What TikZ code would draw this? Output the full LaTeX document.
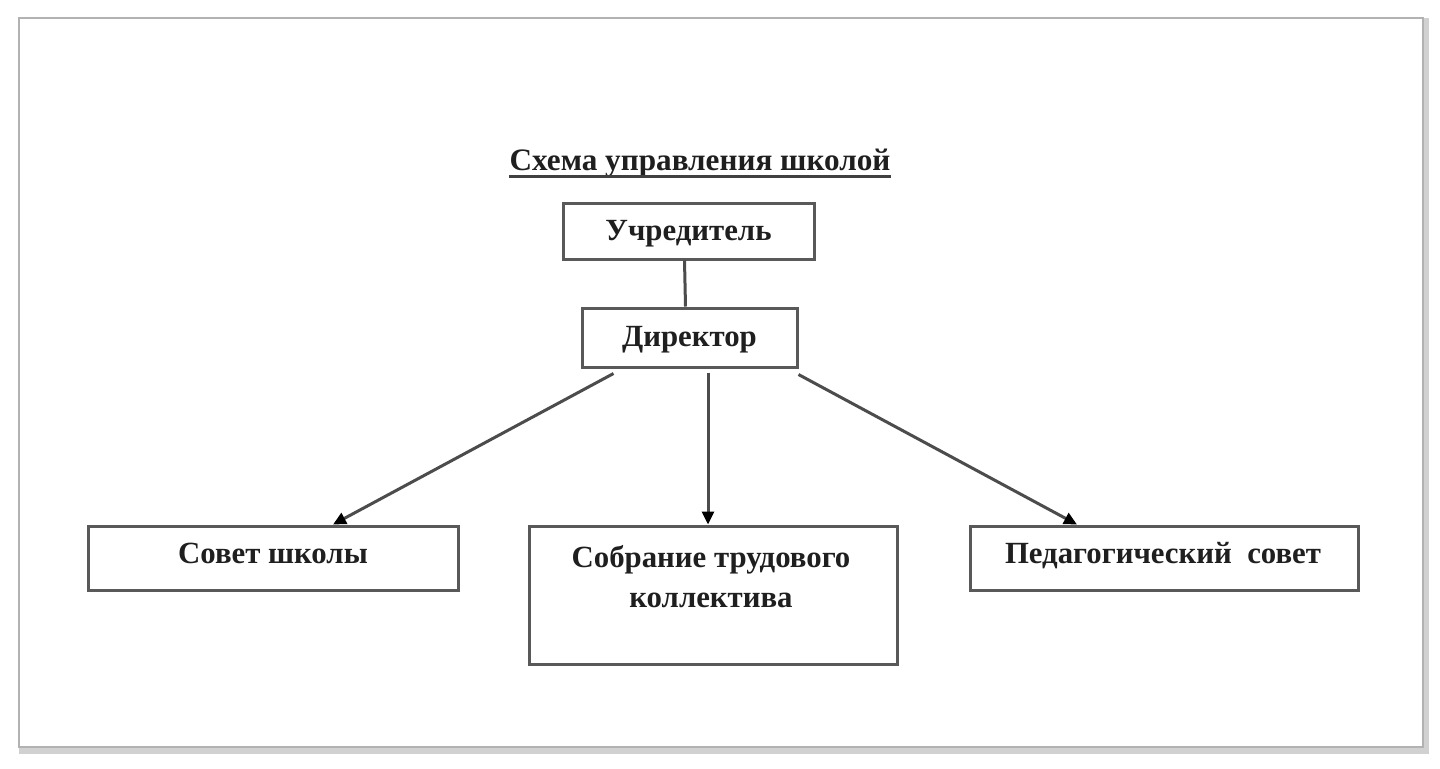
\documentclass[tikz,border=0pt]{standalone}
\usepackage{fontspec}
\setmainfont{Liberation Serif}
\usetikzlibrary{arrows.meta}
\tikzset{
  box/.style={draw=black!65, line width=1.5pt, rectangle, inner sep=0pt, fill=white},
  lbl/.style={font=\fontsize{15.4pt}{20pt}\selectfont\bfseries, text=black!88, inner sep=0pt, align=center, anchor=base},
  conn/.style={draw=black!70, line width=1.5pt},
  arr/.style={conn, -{Triangle[length=6.5pt,width=6pt,fill=black,color=black]}}
}
\begin{document}
\begin{tikzpicture}[x=0.5pt,y=-0.5pt]
\useasboundingbox (0,0) rectangle (1440,768);
\fill[white] (0,0) rectangle (1440,768);
% frame with shadow
\draw[black!18, line width=3pt] (22,21) rectangle (1426,751);
\draw[black!30, line width=1.2pt, fill=white] (19,18) rectangle (1423,747);
% title
\node[lbl, font=\fontsize{15.6pt}{20pt}\selectfont\bfseries] (title) at (700,170) {Схема управления школой};
\draw[conn, draw=black!75] ([yshift=-3pt]title.base west) -- ([yshift=-3pt]title.base east);
% boxes
\node[box, minimum width=125.5pt, minimum height=28pt] (u) at (688.5,231) {};
\node[lbl] (ut) at (688.5,240) {Учредитель};
\node[box, minimum width=107.5pt, minimum height=29.5pt] (d) at (689.5,337.5) {};
\node[lbl] (dt) at (689.5,346) {Директор};
\node[box, minimum width=185pt, minimum height=32pt] (s) at (273,558) {};
\node[lbl] (st) at (273,563) {Совет школы};
\node[box, minimum width=184pt, minimum height=69pt] (c) at (713,595) {};
\node[lbl] (ct1) at (711,567) {Собрание трудового};
\node[lbl] (ct2) at (711,607) {коллектива};
\node[box, minimum width=194pt, minimum height=32pt] (p) at (1164,558) {};
\node[lbl] (pt) at (1163,563) {Педагогический\ \ совет};
% connectors
\draw[conn] ([xshift=-2pt]u.south) -- ([xshift=-2pt]d.north);
\draw[arr] ([xshift=-38pt,yshift=-2.5pt]d.south) -- ([xshift=30pt]s.north);
\draw[arr] ([xshift=9.25pt,yshift=-2pt]d.south) -- ([xshift=-2.5pt]c.north);
\draw[arr] ([yshift=-3pt]d.south east) -- ([xshift=-43.5pt]p.north);
\end{tikzpicture}
\end{document}
